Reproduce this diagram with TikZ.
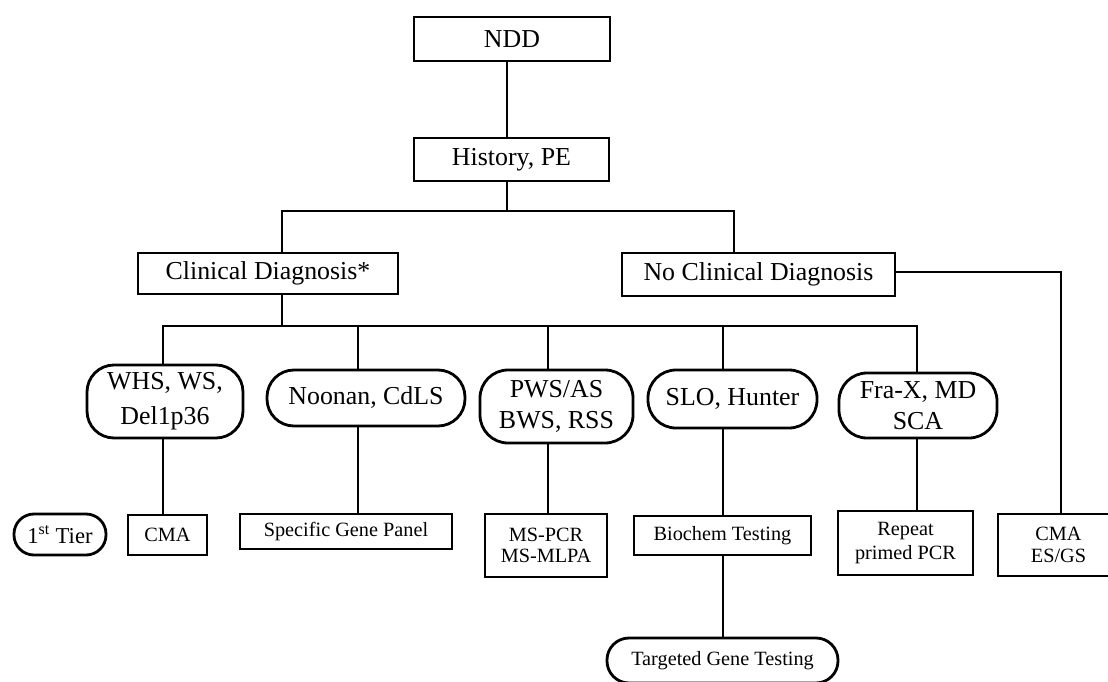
\documentclass[tikz,border=0pt]{standalone}
\usepackage{fontspec}
\setmainfont{Liberation Serif}
\begin{document}
\begin{tikzpicture}[x=0.75pt,y=-0.75pt,
  line width=2.1pt,
  box/.style 2 args={draw, rectangle, inner sep=0pt, outer sep=0pt,
    minimum width=#1*0.75pt, minimum height=#2*0.75pt, align=center},
  big/.style={font=\fontsize{19.4}{23}\selectfont},
  small/.style={font=\fontsize{15.2}{17}\selectfont},
  rnd/.style={rounded corners=#1*0.75pt},
]
\useasboundingbox (0,0) rectangle (1108,682);

% nodes
\node[box={196}{44},big] (ndd) at (512,39) {NDD};
\node[box={195}{43},big] (hist) at (511.5,159.5) {History, PE};
\node[box={260}{41},big] (clin) at (268,273.5) {Clinical Diagnosis*};
\node[box={273}{43},big] (noclin) at (758.5,274.5) {No Clinical Diagnosis};

\node[box={156}{73},rnd=27,font=\fontsize{19.4}{26}\selectfont] (whs) at (165,401.5) {WHS, WS,\\Del1p36};
\node[box={198}{56},rnd=27,big] (noonan) at (366,398) {Noonan, CdLS};
\node[box={153}{73},rnd=28,big] (pws) at (556.5,406.5) {PWS/AS\\BWS, RSS};
\node[box={169}{58},rnd=28,big] (slo) at (732.5,399) {SLO, Hunter};
\node[box={158}{65},rnd=28,big] (frax) at (918,405.5) {Fra-X, MD\\SCA};

\node[box={92}{41},rnd=20,font=\fontsize{17}{20}\selectfont] (tier) at (60,534.5) {1\textsuperscript{st} Tier};
\node[box={79}{40},small] (cma1) at (167.5,535) {CMA};
\node[box={212}{35},small] (sgp) at (346,531.5) {Specific Gene Panel};
\node[box={122}{63},small,font=\fontsize{15.2}{16}\selectfont] (ms) at (546,545.5) {MS-PCR\\MS-MLPA};
\node[box={177}{39},small] (bio) at (722.5,535.5) {Biochem Testing};
\node[box={135}{64},small,font=\fontsize{15.2}{18}\selectfont] (rep) at (905.5,543) {Repeat\\primed PCR};
\node[box={121}{62},small] (cma2) at (1058.5,545) {CMA\\ES/GS};
\node[box={231}{45},rnd=22,small] (tgt) at (722.5,660.5) {Targeted Gene Testing};

% junctions
\coordinate (c0) at (507,211);
\coordinate (cL) at (282,211);
\coordinate (cR) at (734,211);
\coordinate (d0) at (282,326);
\coordinate (dA) at (163,326);
\coordinate (dB) at (358,326);
\coordinate (dC) at (548,326);
\coordinate (dD) at (723,326);
\coordinate (dE) at (917,326);
\coordinate (eR) at (1061,272);

% connectors
\draw (ndd.south -| c0) -- (hist.north -| c0);
\draw (hist.south -| c0) -- (c0);
\draw (clin.north -| cL) -- (cL) -- (cR) -- (noclin.north -| cR);
\draw (clin.south -| d0) -- (d0);
\draw (whs.north -| dA) -- (dA) -- (dE) -- (frax.north -| dE);
\draw (dB) -- (noonan.north -| dB);
\draw (dC) -- (pws.north -| dC);
\draw (dD) -- (slo.north -| dD);
\draw (whs.south -| dA) -- (cma1.north -| dA);
\draw (noonan.south -| dB) -- (sgp.north -| dB);
\draw (pws.south -| dC) -- (ms.north -| dC);
\draw (slo.south -| dD) -- (bio.north -| dD);
\draw (bio.south -| dD) -- (tgt.north -| dD);
\draw (frax.south -| dE) -- (rep.north -| dE);
\draw (noclin.east |- eR) -- (eR) -- (cma2.north -| eR);
\end{tikzpicture}
\end{document}
